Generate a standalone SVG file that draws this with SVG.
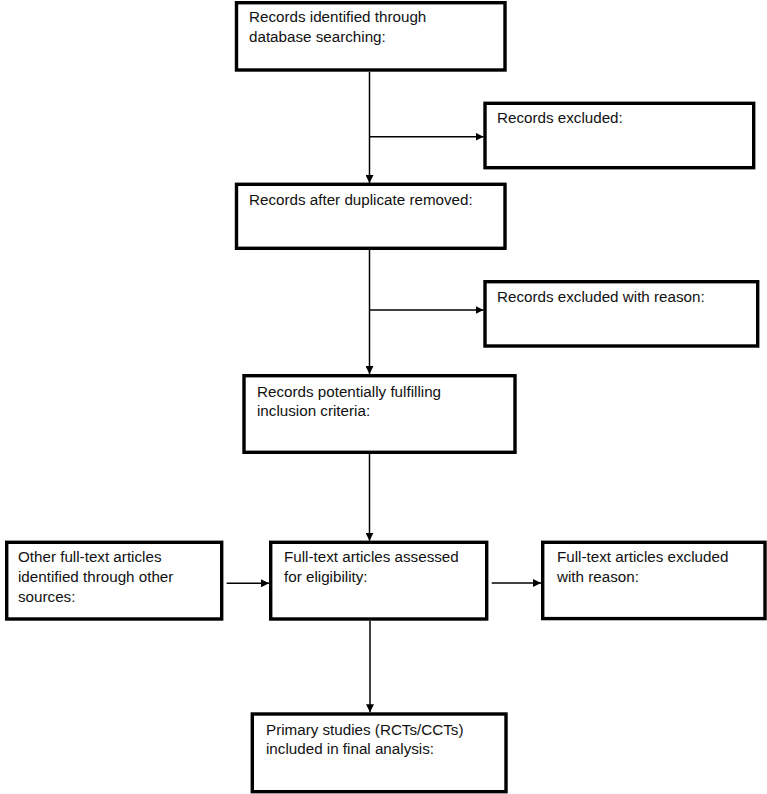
<svg xmlns="http://www.w3.org/2000/svg" width="767" height="794" viewBox="0 0 767 794">
<style>
.box{fill:#fff;stroke:#000;stroke-width:3.4}
.lbl{font-family:"Liberation Sans",Arial,sans-serif;font-size:15.2px;fill:#111}
.con{fill:none;stroke:#000;stroke-width:1.5}
</style>
<defs>
<marker id="ah" markerUnits="userSpaceOnUse" markerWidth="8" markerHeight="8" refX="8" refY="4" orient="auto">
<path d="M0,0 L8,4 L0,8 z" fill="#000"/>
</marker>
</defs>
<rect width="767" height="794" fill="#fff"/>
<g id="connectors">
<line class="con" x1="369.5" y1="72" x2="369.5" y2="183" marker-end="url(#ah)"/>
<line class="con" x1="369.5" y1="136.7" x2="483.5" y2="136.7" marker-end="url(#ah)"/>
<line class="con" x1="369.5" y1="250" x2="369.5" y2="374" marker-end="url(#ah)"/>
<line class="con" x1="369.5" y1="310" x2="483.5" y2="310" marker-end="url(#ah)"/>
<line class="con" x1="369.5" y1="454" x2="369.5" y2="540.7" marker-end="url(#ah)"/>
<line class="con" x1="226.7" y1="583.3" x2="269" y2="583.3" marker-end="url(#ah)"/>
<line class="con" x1="491.7" y1="583" x2="541" y2="583" marker-end="url(#ah)"/>
<line class="con" x1="370" y1="620.7" x2="370" y2="712.3" marker-end="url(#ah)"/>
</g>
<g id="identified">
<rect class="box" x="236.5" y="2.7" width="268.5" height="67.3"/>
<text class="lbl" x="249" y="22">Records identified through</text>
<text class="lbl" x="249" y="42">database searching:</text>
</g>
<g id="excluded">
<rect class="box" x="485" y="103.3" width="268.7" height="64.4"/>
<text class="lbl" x="497" y="123">Records excluded:</text>
</g>
<g id="deduplicated">
<rect class="box" x="236.5" y="184.3" width="268.5" height="64"/>
<text class="lbl" x="249" y="205">Records after duplicate removed:</text>
</g>
<g id="excluded-reason">
<rect class="box" x="485" y="281.7" width="272.7" height="64.3"/>
<text class="lbl" x="497" y="302">Records excluded with reason:</text>
</g>
<g id="potential">
<rect class="box" x="244" y="375.7" width="271" height="76.6"/>
<text class="lbl" x="257" y="397">Records potentially fulfilling</text>
<text class="lbl" x="257" y="416">inclusion criteria:</text>
</g>
<g id="other">
<rect class="box" x="6.7" y="542.3" width="215" height="76.7"/>
<text class="lbl" x="18" y="562">Other full-text articles</text>
<text class="lbl" x="18" y="582">identified through other</text>
<text class="lbl" x="18" y="602">sources:</text>
</g>
<g id="assessed">
<rect class="box" x="270.7" y="542.3" width="216" height="76.7"/>
<text class="lbl" x="284" y="562">Full-text articles assessed</text>
<text class="lbl" x="284" y="582">for eligibility:</text>
</g>
<g id="ft-excluded">
<rect class="box" x="542.7" y="542.3" width="222.3" height="76.3"/>
<text class="lbl" x="557" y="562">Full-text articles excluded</text>
<text class="lbl" x="557" y="582">with reason:</text>
</g>
<g id="included">
<rect class="box" x="252.3" y="714" width="253.7" height="77.7"/>
<text class="lbl" x="266" y="735">Primary studies (RCTs/CCTs)</text>
<text class="lbl" x="266" y="754">included in final analysis:</text>
</g>
</svg>
